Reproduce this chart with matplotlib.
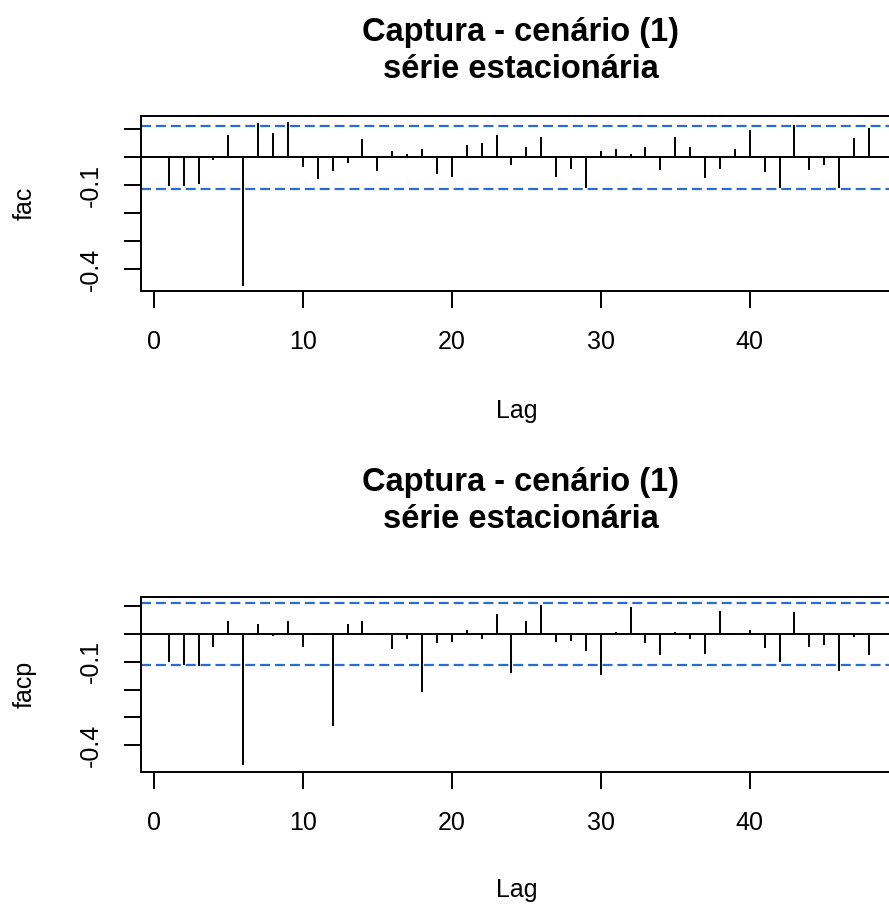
import numpy as np
import matplotlib
matplotlib.use("Agg")
import matplotlib.pyplot as plt

plt.rcParams["font.family"] = ["Liberation Sans", "DejaVu Sans"]

lags = list(range(1, 49))
fac = [-0.102, -0.102, -0.096, -0.010, 0.080, -0.459, 0.122, 0.086, 0.125, -0.034,
       -0.078, -0.048, -0.019, 0.065, -0.048, 0.024, 0.011, 0.029, -0.060, -0.069,
       0.044, 0.050, 0.080, -0.028, 0.038, 0.074, -0.069, -0.040, -0.111, 0.024,
       0.030, 0.011, 0.038, -0.046, 0.074, 0.036, -0.075, -0.040, 0.029, 0.098,
       -0.051, -0.108, 0.116, -0.046, -0.028, -0.111, 0.068, 0.104]
facp = [-0.102, -0.111, -0.115, -0.048, 0.048, -0.471, 0.035, -0.007, 0.048, -0.046,
        0.003, -0.329, 0.036, 0.048, 0.002, -0.054, -0.018, -0.210, -0.034, -0.030,
        0.014, -0.017, 0.073, -0.139, 0.048, 0.104, -0.030, -0.024, -0.060, -0.147,
        0.008, 0.096, -0.034, -0.075, 0.008, -0.018, -0.072, 0.084, 0.002, 0.014,
        -0.049, -0.102, 0.080, -0.048, -0.040, -0.132, -0.010, -0.075]
ci = 0.112
xticks = [0, 10, 20, 30, 40]
yticks = [0.1, 0.0, -0.1, -0.2, -0.3, -0.4]
ytick_labels = ["", "", "-0.1", "", "", "-0.4"]

W, H = 889, 907
fig = plt.figure(figsize=(W / 100, H / 100), dpi=100)


def px(x, y):
    return x / W, 1 - y / H


def panel(top, bottom, values, ylim, ylabel, title_y, lag_y):
    left, right = 140.7, 897
    ax = fig.add_axes([left / W, 1 - bottom / H, (right - left) / W, (bottom - top) / H])
    ax.vlines(lags, 0, values, colors="black", lw=1.4)
    ax.axhline(0, color="black", lw=1.4)
    for c in (ci, -ci):
        ax.axhline(c, color="#2a6dd0", lw=1.6, dashes=(4.5, 2.2))
    ax.set_xlim(-0.88, 49.88)
    ax.set_ylim(*ylim)
    ax.set_xticks(xticks)
    ax.set_xticklabels([str(t) for t in xticks], fontsize=18)
    ax.set_yticks(yticks)
    ax.set_yticklabels(ytick_labels, fontsize=18, rotation=90, va="center")
    ax.tick_params(length=12, width=1.4, color="black", pad=16)
    ax.tick_params(axis="y", pad=15)
    for s in ax.spines.values():
        s.set_linewidth(1.4)
    fig.text(*px(25, (top + bottom) / 2), ylabel, rotation=90, ha="center",
             va="center", fontsize=18)
    fig.text(*px(517, lag_y), "Lag", ha="center", va="center", fontsize=18)
    fig.text(*px(521, title_y[0]), "Captura - cenário (1)", ha="center",
             va="center", fontsize=23.5, fontweight="bold")
    fig.text(*px(521, title_y[1]), "série estacionária", ha="center",
             va="center", fontsize=23.5, fontweight="bold")
    return ax


panel(116, 290.7, fac, (-0.476, 0.1475), "fac", (32, 70), 411)
panel(597.3, 771.7, facp, (-0.495, 0.132), "facp", (482, 519), 890)

fig.savefig("out.png", dpi=100)
